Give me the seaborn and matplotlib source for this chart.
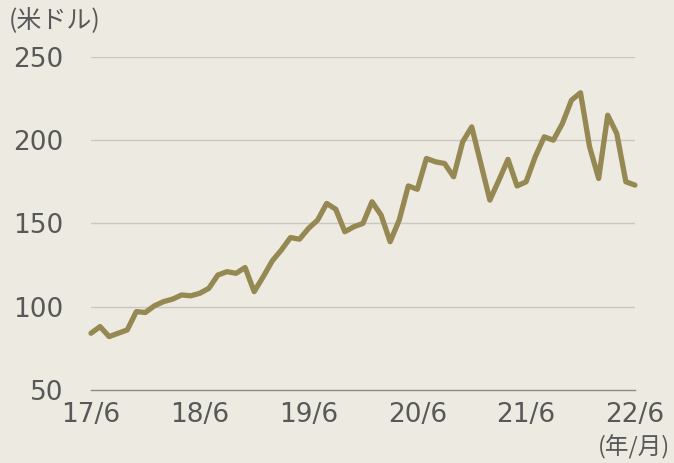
import numpy as np
import pandas as pd
import matplotlib.pyplot as plt
import seaborn as sns

# monthly values, 2017/6 - 2022/6 (米ドル)
values = [84, 88, 82, 84, 86, 97, 96.5, 100.5, 103, 104.5,
          107, 106.5, 108, 111, 119, 121, 120, 123.5, 109, 118,
          127.5, 134, 141.5, 140.5, 147, 152, 162, 158.5, 145, 148,
          150, 163, 155, 139, 152, 172.5, 170.5, 189, 187, 186,
          178, 199, 208, 186, 164, 176, 188.5, 172.5, 175, 190,
          202, 200, 210, 224, 228.5, 196, 177, 215, 204, 175,
          173]
tick_labels = ['17/6', '18/6', '19/6', '20/6', '21/6', '22/6']
y_ticks = [50, 100, 150, 200, 250]

df = pd.DataFrame({'month': np.arange(len(values)), 'value': values})

bg = '#EDEBE1'
line_color = '#958852'
text_color = '#585858'

sns.set_style('white')
plt.rcParams['font.family'] = ['DejaVu Sans', 'Noto Sans CJK JP']

fig = plt.figure(figsize=(6.74, 4.63), dpi=100, facecolor=bg)
ax = fig.add_axes([0.135, 0.158, 0.807, 0.719], facecolor=bg)

sns.lineplot(data=df, x='month', y='value', ax=ax, color=line_color,
             linewidth=3.8, clip_on=False, zorder=3)

ax.set_xlim(0, 60)
ax.set_ylim(50, 250)
ax.set_xticks(range(0, 61, 12))
ax.set_xticklabels(tick_labels)
ax.set_yticks(y_ticks)
ax.set_xlabel('')
ax.set_ylabel('')

for y in y_ticks[1:]:
    ax.axhline(y, color='#c9c7c2', linewidth=1, zorder=1)

for s in ['top', 'right', 'left']:
    ax.spines[s].set_visible(False)
ax.spines['bottom'].set_color('#8a8a8a')
ax.spines['bottom'].set_linewidth(1)

ax.tick_params(axis='x', direction='out', length=6, width=1, color='#8a8a8a',
               labelsize=19, labelcolor=text_color, pad=3)
ax.tick_params(axis='y', length=0, labelsize=19, labelcolor=text_color, pad=20)

fig.text(9 / 674, 1 - 21 / 463, '(米ドル)', fontsize=18, color=text_color,
         ha='left', va='center', family=['Noto Sans CJK JP'])
fig.text(670 / 674, 1 - 447 / 463, '(年/月)', fontsize=17, color=text_color,
         ha='right', va='center', family=['Noto Sans CJK JP'])

fig.savefig('out.png', dpi=100, facecolor=bg)
